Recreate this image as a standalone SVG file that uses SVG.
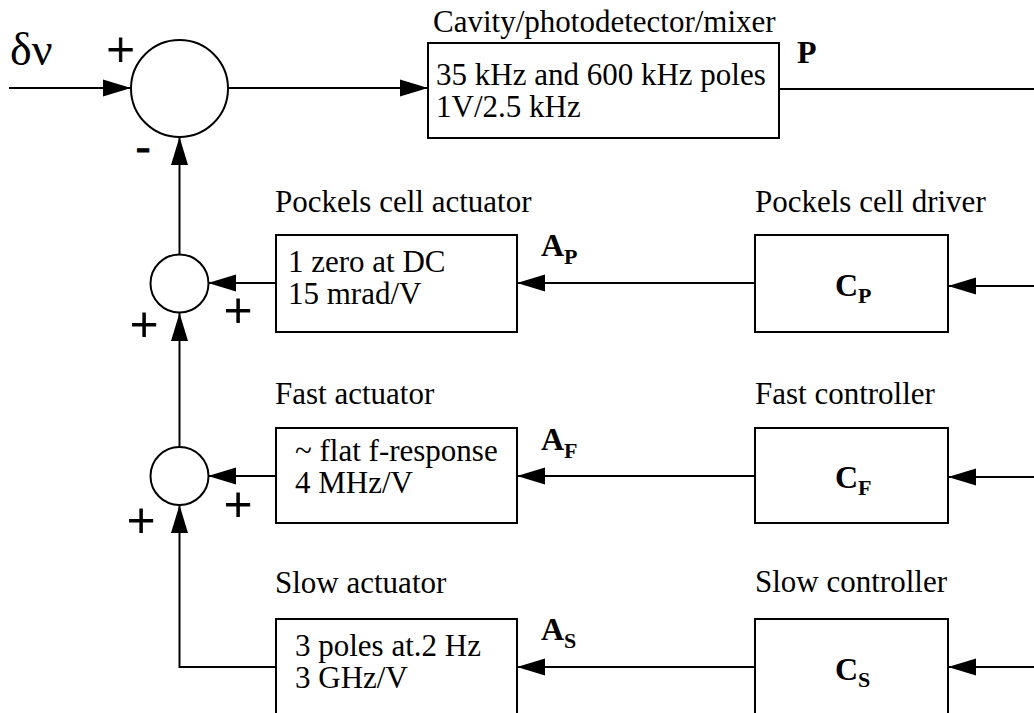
<svg xmlns="http://www.w3.org/2000/svg" width="1034" height="713" viewBox="0 0 1034 713">
<style>
  text { font-family: "Liberation Serif", "Times New Roman", serif; fill: #000; }
  .t { font-size: 31px; }
  .b { font-size: 32px; font-weight: bold; }
  .sub { font-size: 22px; font-weight: bold; }
  .sign { font-size: 50px; stroke: #000; stroke-width: 0.9; }
  .minus { font-size: 44px; stroke: #000; stroke-width: 0.9; }
  .box { fill: #fff; stroke: #000; stroke-width: 2; }
  .sum { fill: #fff; stroke: #000; stroke-width: 2; }
  .wire { fill: none; stroke: #000; stroke-width: 2; }
</style>
<defs>
  <marker id="arr" markerUnits="userSpaceOnUse" markerWidth="28" markerHeight="18" refX="28" refY="9" orient="auto">
    <path d="M0,0.5 L28,9 L0,17.5 z" fill="#000"/>
  </marker>
</defs>
<rect width="1034" height="713" fill="#fff"/>

<g id="connectors">
  <path class="wire" d="M9,88 H131" marker-end="url(#arr)"/>
  <path class="wire" d="M228,88 H428" marker-end="url(#arr)"/>
  <path class="wire" d="M779,89 H1034"/>
  <path class="wire" d="M179.5,254 V137" marker-end="url(#arr)"/>
  <path class="wire" d="M179.5,447 V313" marker-end="url(#arr)"/>
  <path class="wire" d="M276,667 H179.5 V505" marker-end="url(#arr)"/>
  <path class="wire" d="M276,283 H208" marker-end="url(#arr)"/>
  <path class="wire" d="M276,476 H208" marker-end="url(#arr)"/>
  <path class="wire" d="M755,283 H517" marker-end="url(#arr)"/>
  <path class="wire" d="M755,476 H517" marker-end="url(#arr)"/>
  <path class="wire" d="M755,667 H517" marker-end="url(#arr)"/>
  <path class="wire" d="M1034,286 H948" marker-end="url(#arr)"/>
  <path class="wire" d="M1034,477 H948" marker-end="url(#arr)"/>
  <path class="wire" d="M1034,667 H948" marker-end="url(#arr)"/>
</g>

<g id="input">
  <text x="10" y="65" style="font-size:46px">δν</text>
</g>

<g id="sum-main">
  <circle class="sum" cx="179.5" cy="88.5" r="48.5"/>
  <text class="sign" x="120.5" y="66.5" text-anchor="middle">+</text>
  <text class="minus" x="143" y="161" text-anchor="middle">-</text>
</g>

<g id="cavity">
  <text class="t" x="433" y="32">Cavity/photodetector/mixer</text>
  <rect class="box" x="428" y="43" width="351" height="95"/>
  <text class="t" x="436" y="85">35 kHz and 600 kHz poles</text>
  <text class="t" x="436" y="117">1V/2.5 kHz</text>
  <text class="b" x="797" y="63">P</text>
</g>

<g id="sum-pockels">
  <circle class="sum" cx="179.5" cy="283.5" r="29"/>
  <text class="sign" x="238" y="327.5" text-anchor="middle">+</text>
  <text class="sign" x="144" y="342" text-anchor="middle">+</text>
</g>

<g id="sum-fast">
  <circle class="sum" cx="179.5" cy="476" r="29"/>
  <text class="sign" x="238" y="521.5" text-anchor="middle">+</text>
  <text class="sign" x="141" y="537.5" text-anchor="middle">+</text>
</g>

<g id="pockels-actuator">
  <text class="t" x="275" y="212">Pockels cell actuator</text>
  <rect class="box" x="276" y="235" width="241" height="97"/>
  <text class="t" x="288" y="272">1 zero at DC</text>
  <text class="t" x="288" y="304">15 mrad/V</text>
  <text class="b" x="541" y="256">A<tspan class="sub" dy="8">P</tspan></text>
</g>

<g id="fast-actuator">
  <text class="t" x="275" y="404">Fast actuator</text>
  <rect class="box" x="276" y="428" width="241" height="95"/>
  <text class="t" x="295" y="461">~ flat f-response</text>
  <text class="t" x="295" y="493">4 MHz/V</text>
  <text class="b" x="541" y="450">A<tspan class="sub" dy="8">F</tspan></text>
</g>

<g id="slow-actuator">
  <text class="t" x="275" y="593">Slow actuator</text>
  <rect class="box" x="276" y="619" width="241" height="110"/>
  <text class="t" x="295" y="656">3 poles at.2 Hz</text>
  <text class="t" x="295" y="688">3 GHz/V</text>
  <text class="b" x="541" y="640">A<tspan class="sub" dy="8">S</tspan></text>
</g>

<g id="pockels-driver">
  <text class="t" x="755" y="212">Pockels cell driver</text>
  <rect class="box" x="755" y="235" width="193" height="97"/>
  <text class="b" x="835" y="296">C<tspan class="sub" dy="7">P</tspan></text>
</g>

<g id="fast-controller">
  <text class="t" x="755" y="404">Fast controller</text>
  <rect class="box" x="755" y="428" width="193" height="95"/>
  <text class="b" x="835" y="488">C<tspan class="sub" dy="7">F</tspan></text>
</g>

<g id="slow-controller">
  <text class="t" x="755" y="592">Slow controller</text>
  <rect class="box" x="755" y="619" width="193" height="110"/>
  <text class="b" x="835" y="680">C<tspan class="sub" dy="7">S</tspan></text>
</g>
</svg>
